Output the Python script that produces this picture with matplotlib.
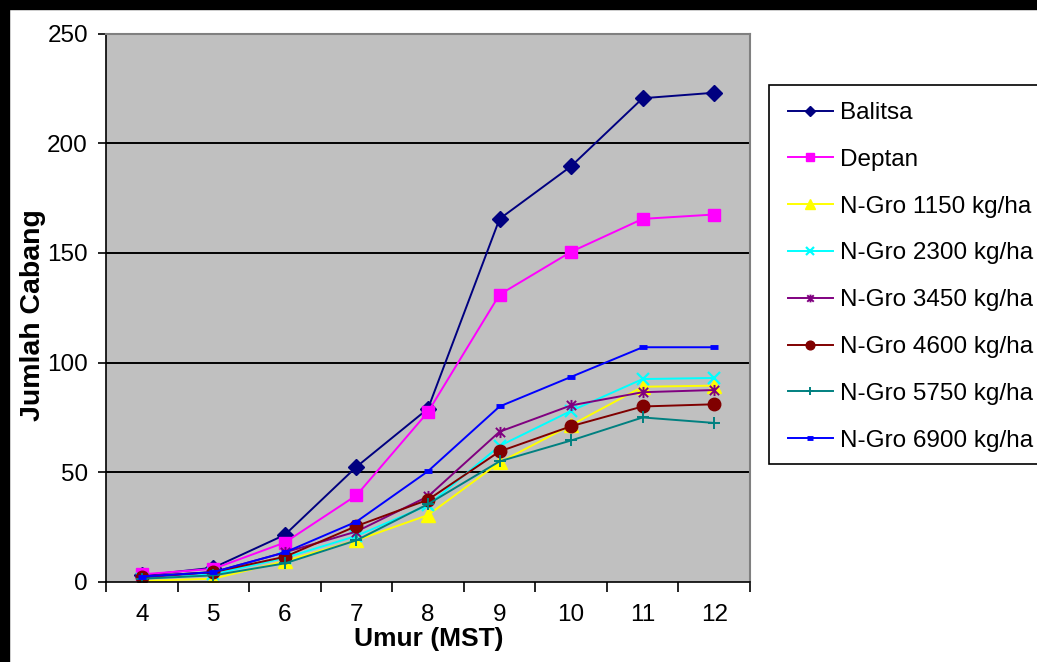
import numpy as np
import matplotlib.pyplot as plt
from matplotlib.path import Path
from matplotlib.patches import Rectangle

plt.rcParams['font.family'] = ['Liberation Sans', 'DejaVu Sans']

# umur tanaman (minggu setelah tanam)
umur = ['4', '5', '6', '7', '8', '9', '10', '11', '12']

# jumlah cabang per perlakuan
balitsa = [3, 6.5, 21.5, 52.5, 79, 165.5, 189.5, 220.5, 223]
deptan = [3.5, 6, 18, 39.5, 77.5, 131, 150.5, 165.5, 167.5]
ngro_1150 = [0.5, 1.5, 9.5, 19, 30.5, 54.5, 71.5, 89, 89.5]
ngro_2300 = [1.5, 3.5, 11, 21, 35, 62, 78, 92.5, 93]
ngro_3450 = [2, 4.5, 13.5, 23, 39, 68.5, 80.5, 86.5, 87.5]
ngro_4600 = [2.5, 4.5, 11.5, 25.5, 37.5, 59.5, 71, 80, 81]
ngro_5750 = [1.5, 3, 8.5, 19, 35.5, 55, 64.5, 75, 72.5]
ngro_6900 = [2.5, 4.5, 13.5, 27.5, 50.5, 80, 93.5, 107, 107]

labels = ['Balitsa', 'Deptan', 'N-Gro 1150 kg/ha', 'N-Gro 2300 kg/ha',
          'N-Gro 3450 kg/ha', 'N-Gro 4600 kg/ha', 'N-Gro 5750 kg/ha',
          'N-Gro 6900 kg/ha']
series = [balitsa, deptan, ngro_1150, ngro_2300, ngro_3450, ngro_4600,
          ngro_5750, ngro_6900]

# asterisk marker (x plus a vertical bar)
star = Path([(-1, -1), (1, 1), (-1, 1), (1, -1), (0, -1.2), (0, 1.2)],
            [Path.MOVETO, Path.LINETO, Path.MOVETO, Path.LINETO,
             Path.MOVETO, Path.LINETO])

styles = [
    dict(color='#000080', marker='D', ms=8),
    dict(color='#FF00FF', marker='s', ms=9),
    dict(color='#FFFF00', marker='^', ms=10),
    dict(color='#00FFFF', marker='x', ms=8, mew=1.6),
    dict(color='#800080', marker=star, ms=8, mew=1.4),
    dict(color='#800000', marker='o', ms=9),
    dict(color='#008080', marker='+', ms=9, mew=1.4),
    dict(color='#0000FF', marker='_', ms=6, mew=3.5),
]

W, H = 1037, 662
fig = plt.figure(figsize=(W / 100, H / 100), dpi=100)
ax = fig.add_axes([106 / W, 1 - 582 / H, 644 / W, 548.5 / H])
ax.set_facecolor('#C0C0C0')

x = np.arange(len(umur))
for y, lab, st in zip(series, labels, styles):
    ax.plot(x, y, lw=1.4, label=lab, **st)

ax.set_xlim(-0.5, len(umur) - 0.5)
ax.set_ylim(0, 250)
ax.set_yticks(np.arange(0, 251, 50))
ax.set_xticks(x)
ax.set_xticklabels(umur)
ax.set_xticks(np.arange(-0.5, len(umur)), minor=True)
ax.tick_params(axis='x', which='major', length=0, pad=16, labelsize=17.5)
ax.tick_params(axis='x', which='minor', length=7, width=1.2, direction='out')
ax.tick_params(axis='y', length=6, width=1.2, direction='out', pad=7,
               labelsize=17.5)

for v in [50, 100, 150, 200]:
    ax.axhline(v, color='black', lw=1.4, zorder=1)

ax.spines['left'].set_color('black')
ax.spines['bottom'].set_color('black')
ax.spines['left'].set_linewidth(1.2)
ax.spines['bottom'].set_linewidth(1.2)
for s in ['top', 'right']:
    ax.spines[s].set_color('#808080')
    ax.spines[s].set_linewidth(1.5)

fig.text(33 / W, 1 - 315 / H, 'Jumlah Cabang', rotation=90,
         ha='center', va='center', fontsize=20.5, fontweight='bold')
fig.text(429 / W, 1 - 639 / H, 'Umur (MST)', ha='center', va='center',
         fontsize=19, fontweight='bold')

# legend box, open on the right side
fig.patches.append(Rectangle((769 / W, 1 - 464 / H), 300 / W, 379 / H,
                             facecolor='white', edgecolor='black', lw=1.2,
                             transform=fig.transFigure, zorder=3))
leg = fig.legend(loc='upper left', bbox_to_anchor=(788 / W, 1 - 102 / H),
                 fontsize=17.5, frameon=False, handlelength=1.85,
                 handletextpad=0.3, labelspacing=1.02, borderpad=0,
                 borderaxespad=0, markerscale=0.7)
leg.set_zorder(4)

# black frame along the top and left edges
fig.patches.append(Rectangle((0, 1 - 9 / H), 1, 9 / H, color='black',
                             transform=fig.transFigure, zorder=10))
fig.patches.append(Rectangle((0, 0), 9 / W, 1, color='black',
                             transform=fig.transFigure, zorder=10))

fig.savefig('out.png', dpi=100)
